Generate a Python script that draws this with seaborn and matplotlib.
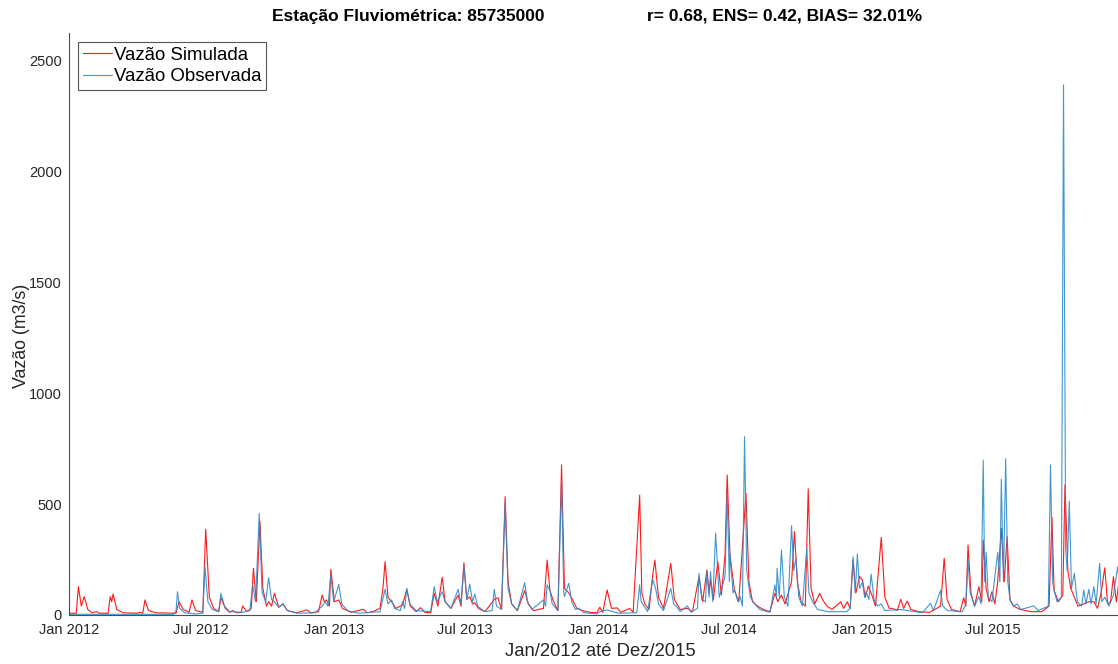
import matplotlib
matplotlib.use("Agg")
import matplotlib.pyplot as plt
import matplotlib.dates as mdates
import numpy as np
import pandas as pd
import seaborn as sns

# ---------------- data ----------------
start_date = "2012-01-01"
end_offset_days = 1460

# Vazão Simulada (red): day offset from 2012-01-01, value m3/s
sim_day = [0, 10, 13, 17, 21, 26, 32, 38, 42, 54, 57, 59, 61, 66, 75, 95, 97, 102, 105, 110,
           120, 148, 152, 158, 166, 170, 175, 185, 189, 194, 200, 207, 210, 216, 222, 226, 232, 238, 240, 246,
           252, 255, 259, 264, 268, 273, 276, 280, 284, 290, 296, 302, 315, 329, 334, 345, 350, 353, 356, 360,
           362, 367, 373, 378, 390, 407, 412, 420, 430, 434, 437, 441, 446, 452, 461, 467, 472, 480, 486, 492,
           500, 505, 510, 516, 520, 528, 538, 542, 546, 550, 554, 558, 561, 566, 575, 588, 593, 598, 603, 607,
           612, 620, 630, 635, 642, 656, 661, 665, 670, 676, 681, 685, 691, 696, 702, 710, 720, 730, 734, 738,
           744, 750, 758, 763, 775, 780, 789, 792, 796, 802, 807, 810, 815, 822, 832, 837, 845, 855, 862, 871,
           876, 882, 885, 887, 891, 897, 902, 907, 910, 914, 920, 926, 936, 940, 945, 952, 960, 969, 976, 980,
           985, 990, 999, 1003, 1007, 1012, 1018, 1022, 1026, 1031, 1038, 1042, 1048, 1055, 1067, 1071, 1076, 1080, 1084, 1088,
           1093, 1097, 1101, 1105, 1110, 1115, 1123, 1128, 1134, 1138, 1145, 1150, 1154, 1159, 1164, 1175, 1190, 1205, 1210, 1214,
           1220, 1232, 1237, 1240, 1243, 1247, 1252, 1258, 1262, 1264, 1268, 1272, 1276, 1280, 1284, 1289, 1293, 1297, 1301, 1306,
           1315, 1330, 1345, 1355, 1359, 1362, 1368, 1374, 1377, 1381, 1385, 1390, 1395, 1403, 1410, 1417, 1422, 1427, 1432, 1436,
           1440, 1444, 1448, 1452, 1456, 1460]
sim_val = [8, 8, 128, 40, 83, 25, 10, 15, 8, 8, 83, 60, 95, 25, 10, 8, 12, 8, 68, 20,
           10, 8, 60, 25, 12, 68, 20, 12, 387, 80, 30, 15, 78, 30, 12, 20, 10, 12, 41, 15,
           30, 211, 60, 421, 120, 40, 60, 40, 98, 35, 50, 20, 10, 23, 10, 15, 90, 60, 68, 40,
           206, 60, 68, 30, 12, 26, 10, 15, 30, 120, 241, 80, 60, 30, 45, 115, 40, 15, 33, 12,
           10, 98, 40, 170, 60, 30, 90, 40, 236, 70, 83, 50, 56, 30, 15, 70, 78, 25, 534, 150,
           50, 20, 110, 50, 20, 30, 248, 110, 60, 20, 677, 120, 100, 70, 30, 20, 12, 10, 35, 12,
           113, 30, 32, 12, 30, 12, 541, 100, 50, 25, 180, 248, 80, 30, 233, 70, 25, 30, 15, 173,
           60, 203, 100, 158, 70, 241, 90, 271, 632, 263, 113, 60, 549, 150, 60, 40, 25, 15, 98, 60,
           90, 50, 150, 376, 150, 60, 40, 569, 120, 50, 98, 68, 40, 25, 60, 30, 60, 30, 248, 100,
           174, 158, 80, 130, 90, 40, 350, 80, 30, 30, 20, 71, 30, 63, 25, 15, 12, 40, 256, 70,
           25, 15, 78, 40, 316, 100, 40, 128, 60, 338, 120, 60, 105, 50, 150, 391, 150, 353, 68, 40,
           25, 15, 15, 40, 440, 110, 60, 90, 587, 200, 120, 80, 40, 50, 60, 60, 30, 100, 213, 50,
           60, 173, 60, 160, 60, 50]

# Vazão Observada (blue)
obs_day = [0, 145, 148, 150, 153, 160, 175, 185, 188, 192, 198, 207, 210, 215, 222, 240, 250, 254, 258, 263,
           267, 272, 276, 280, 284, 290, 296, 302, 315, 340, 350, 354, 358, 362, 366, 373, 377, 385, 400, 430,
           437, 441, 446, 450, 458, 461, 464, 467, 471, 480, 500, 505, 509, 516, 520, 528, 538, 542, 546, 550,
           554, 558, 561, 565, 575, 585, 588, 591, 598, 603, 607, 612, 620, 630, 634, 640, 656, 659, 661, 665,
           668, 676, 681, 684, 685, 691, 695, 700, 705, 712, 730, 734, 744, 760, 785, 789, 791, 794, 800, 807,
           811, 815, 822, 832, 836, 840, 845, 855, 860, 869, 871, 875, 880, 882, 885, 887, 890, 894, 899, 907,
           910, 913, 914, 918, 920, 925, 928, 931, 934, 937, 942, 948, 955, 969, 976, 978, 979, 982, 985, 989,
           994, 999, 1002, 1005, 1009, 1014, 1020, 1023, 1028, 1035, 1050, 1075, 1080, 1084, 1087, 1090, 1093, 1097, 1100, 1102,
           1106, 1109, 1113, 1118, 1123, 1128, 1150, 1160, 1180, 1191, 1195, 1205, 1208, 1215, 1235, 1240, 1243, 1246, 1252, 1258,
           1261, 1264, 1266, 1268, 1271, 1276, 1284, 1287, 1289, 1292, 1295, 1298, 1301, 1306, 1311, 1316, 1334, 1340, 1354, 1357,
           1360, 1362, 1366, 1372, 1375, 1378, 1380, 1383, 1386, 1390, 1394, 1400, 1403, 1406, 1410, 1413, 1417, 1420, 1425, 1428,
           1432, 1438, 1444, 1450, 1454, 1460]
obs_val = [3, 3, 20, 105, 30, 10, 5, 8, 218, 60, 25, 15, 98, 40, 15, 12, 20, 136, 60, 459,
           100, 60, 168, 70, 60, 35, 50, 20, 8, 10, 40, 60, 40, 181, 60, 138, 50, 20, 8, 15,
           116, 50, 68, 30, 20, 60, 30, 120, 50, 20, 15, 128, 60, 105, 60, 30, 116, 50, 218, 70,
           140, 60, 95, 40, 15, 20, 116, 40, 25, 504, 120, 50, 20, 146, 60, 25, 68, 40, 136, 110,
           50, 20, 602, 100, 83, 143, 60, 25, 30, 10, 5, 15, 23, 8, 10, 136, 60, 45, 15, 161,
           120, 50, 20, 120, 50, 38, 15, 41, 12, 30, 188, 70, 60, 196, 80, 196, 60, 369, 80, 174,
           549, 150, 278, 100, 113, 60, 83, 40, 805, 200, 80, 50, 25, 12, 136, 80, 211, 80, 293, 80,
           40, 403, 200, 256, 80, 40, 301, 100, 60, 25, 15, 15, 30, 263, 100, 275, 120, 150, 80, 105,
           70, 185, 70, 40, 50, 20, 25, 20, 10, 53, 20, 110, 40, 20, 15, 50, 248, 100, 40, 83,
           50, 699, 150, 283, 80, 60, 283, 150, 612, 150, 705, 150, 68, 40, 50, 25, 41, 20, 40, 677,
           150, 110, 60, 80, 2392, 300, 200, 514, 120, 188, 60, 40, 113, 50, 116, 50, 128, 50, 233, 60,
           80, 40, 90, 218, 60, 40]

y_ticks = [0, 500, 1000, 1500, 2000, 2500]
title_left = "Estação Fluviométrica: 85735000"
title_right = "r= 0.68, ENS= 0.42, BIAS= 32.01%"
label_sim = "Vazão Simulada"
label_obs = "Vazão Observada"
x_label = "Jan/2012 até Dez/2015"
y_label = "Vazão (m3/s)"

# ---------------- plotting ----------------
sns.set_style("white")
plt.rcParams["font.family"] = ["Liberation Sans", "DejaVu Sans"]

t0 = pd.Timestamp(start_date)
df_sim = pd.DataFrame({"Data": t0 + pd.to_timedelta(sim_day, unit="D"), "Vazao": sim_val})
df_obs = pd.DataFrame({"Data": t0 + pd.to_timedelta(obs_day, unit="D"), "Vazao": obs_val})

W, H = 1118, 664
fig = plt.figure(figsize=(W / 100, H / 100), dpi=100)
ax = fig.add_axes([69 / W, 49 / H, 1056 / W, 582 / H])

sns.lineplot(data=df_sim, x="Data", y="Vazao", ax=ax, color="#ff1a1a", lw=0.8,
             label=label_sim, estimator=None)
sns.lineplot(data=df_obs, x="Data", y="Vazao", ax=ax, color="#2e8bcb", lw=0.8,
             alpha=0.9, label=label_obs, estimator=None)

ax.set_xlim(t0, t0 + pd.Timedelta(days=end_offset_days))
ax.set_ylim(0, 2626)
ax.set_yticks(y_ticks)
ax.xaxis.set_major_locator(mdates.MonthLocator(bymonth=[1, 7]))
ax.xaxis.set_major_formatter(mdates.DateFormatter("%b %Y"))

for s in ["top", "right"]:
    ax.spines[s].set_visible(False)
for s in ["left", "bottom"]:
    ax.spines[s].set_color("#4d4d4d")
    ax.spines[s].set_linewidth(0.8)

ax.tick_params(axis="both", direction="in", length=5, width=0.7, colors="#4d4d4d",
               labelcolor="#262626", labelsize=10.5)
ax.tick_params(axis="x", pad=6)
ax.tick_params(axis="y", pad=5)

ax.set_xlabel(x_label, fontsize=13.3, color="#262626")
ax.xaxis.set_label_coords((600 - 69) / 1056, -(652 - 615) / 582)
ax.set_ylabel(y_label, fontsize=12.8, color="#262626")
ax.yaxis.set_label_coords((21 - 69) / 1056, (615 - 336) / 582)
ax.xaxis.label.set_va("center")
ax.yaxis.label.set_va("center")

leg = ax.legend(loc="upper left", bbox_to_anchor=(9 / 1056, 1 - 9 / 582), borderaxespad=0,
                fontsize=13.4, handlelength=1.55, handletextpad=0.15, borderpad=0.25,
                labelspacing=0.25, frameon=True, fancybox=False, framealpha=1)
leg.get_frame().set_edgecolor("#555555")
leg.get_frame().set_linewidth(0.8)
for t in leg.get_texts():
    t.set_color("#000000")
for line in leg.get_lines():
    line.set_linewidth(0.8)

fig.text(272 / W, 1 - 16 / H, title_left, ha="left", va="center", fontsize=12.5,
         fontweight="bold", color="#000000")
fig.text(922 / W, 1 - 16 / H, title_right, ha="right", va="center", fontsize=12.5,
         fontweight="bold", color="#000000")

fig.savefig("out.png", dpi=100)
